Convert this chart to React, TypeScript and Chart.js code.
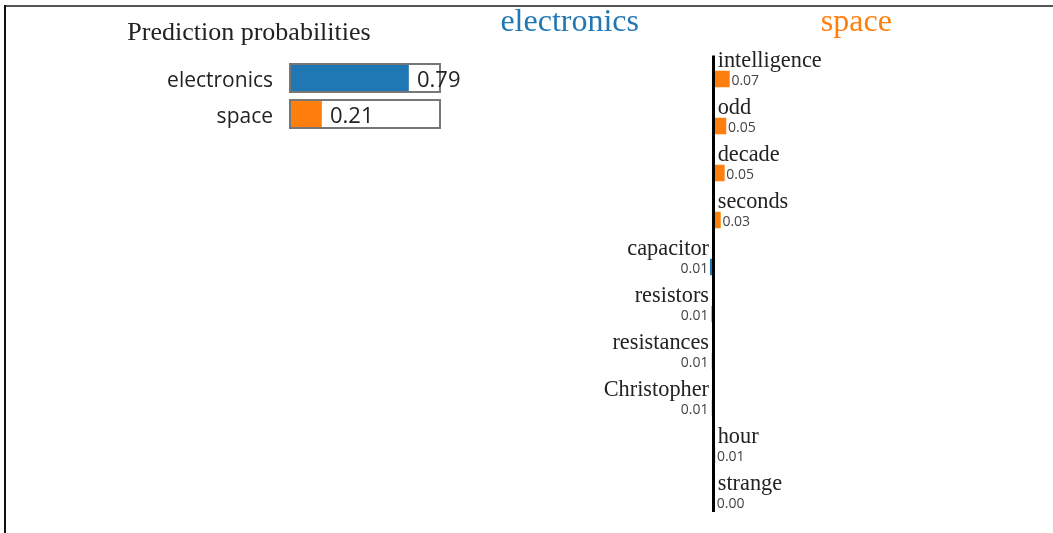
import React, { useEffect, useRef } from "react";
import { Chart, registerables } from "chart.js";

Chart.register(...registerables);

// ---- data ----
const probClasses = ["electronics", "space"];
const probValues = [0.79, 0.21];
const classColors = ["#1f77b4", "#ff7f0e"];

const featureNames = [
  "intelligence",
  "odd",
  "decade",
  "seconds",
  "capacitor",
  "resistors",
  "resistances",
  "Christopher",
  "hour",
  "strange",
];
const featureWeights = [0.069, 0.054, 0.047, 0.03, -0.014, -0.007, -0.006, -0.006, 0.006, 0.002];

const SERIF = "'Liberation Serif', 'Times New Roman', serif";
const SANS = "'Open Sans', 'Noto Sans', sans-serif";
const TEXT = "#222";

function ProbChart() {
  const ref = useRef<HTMLCanvasElement | null>(null);
  useEffect(() => {
    const canvas = ref.current!;
    const decor = {
      id: "probDecor",
      afterDatasetsDraw(chart: any) {
        const { ctx } = chart;
        const xs = chart.scales.x;
        const x0 = xs.getPixelForValue(0);
        const x1 = xs.getPixelForValue(1);
        const meta = chart.getDatasetMeta(0);
        ctx.save();
        meta.data.forEach((bar: any, i: number) => {
          const p = bar.getProps(["x", "y", "height"], true);
          const top = p.y - p.height / 2;
          ctx.strokeStyle = "#777";
          ctx.lineWidth = 2;
          ctx.strokeRect(x0, top, x1 - x0, p.height);
          ctx.fillStyle = TEXT;
          ctx.textBaseline = "alphabetic";
          ctx.font = `21px ${SANS}`;
          ctx.textAlign = "right";
          ctx.fillText(probClasses[i], x0 - 17, p.y + 9);
          ctx.font = `22px ${SANS}`;
          ctx.textAlign = "left";
          ctx.fillText(probValues[i].toFixed(2), p.x + 8.5, p.y + 9);
        });
        ctx.font = `26px ${SERIF}`;
        ctx.textAlign = "center";
        ctx.fillStyle = TEXT;
        ctx.fillText("Prediction probabilities", 249, 39.5);
        ctx.restore();
      },
    };
    const chart = new Chart(canvas, {
      type: "bar",
      data: {
        labels: probClasses,
        datasets: [
          {
            data: probValues,
            backgroundColor: classColors,
            borderWidth: 0,
            barThickness: 28,
          },
        ],
      },
      options: {
        indexAxis: "y",
        responsive: false,
        animation: false,
        devicePixelRatio: 1,
        layout: { padding: { left: 290, right: 40, top: 60, bottom: 8 } },
        scales: {
          x: { display: false, min: 0, max: 1 },
          y: { display: false },
        },
        plugins: { legend: { display: false }, tooltip: { enabled: false } },
      },
      plugins: [decor],
    } as any);
    return () => chart.destroy();
  }, []);
  return (
    <canvas
      ref={ref}
      width={480}
      height={140}
      style={{ position: "absolute", left: 0, top: 0, width: 480, height: 140 }}
    />
  );
}

function FeatureChart() {
  const ref = useRef<HTMLCanvasElement | null>(null);
  useEffect(() => {
    const canvas = ref.current!;
    const decor = {
      id: "featDecor",
      afterDatasetsDraw(chart: any) {
        const { ctx } = chart;
        const xs = chart.scales.x;
        const x0 = xs.getPixelForValue(0);
        const meta = chart.getDatasetMeta(0);
        ctx.save();
        let lastBottom = 0;
        meta.data.forEach((bar: any, i: number) => {
          const p = bar.getProps(["x", "y", "height"], true);
          const top = p.y - p.height / 2;
          const bottom = p.y + p.height / 2;
          lastBottom = bottom;
          const w = featureWeights[i];
          const label = Math.abs(w).toFixed(2);
          ctx.fillStyle = TEXT;
          ctx.textBaseline = "alphabetic";
          if (w >= 0) {
            ctx.textAlign = "left";
            ctx.font = `22.3px ${SERIF}`;
            ctx.fillText(featureNames[i], x0 + 4.2, top - 4.5);
            ctx.font = `14px ${SANS}`;
            ctx.fillStyle = "#444";
            ctx.fillText(label, Math.max(p.x + 2, x0 + 3.2), bottom - 2);
          } else {
            ctx.textAlign = "right";
            ctx.font = `22.3px ${SERIF}`;
            ctx.fillText(featureNames[i], x0 - 4.5, top - 4.5);
            ctx.font = `14px ${SANS}`;
            ctx.fillStyle = "#444";
            ctx.fillText(label, Math.min(p.x - 2, x0 - 5), bottom - 2);
          }
        });
        // axis line
        ctx.fillStyle = "#000";
        const top = chart.chartArea.top;
        ctx.fillRect(x0 - 1.5, top, 3, lastBottom + 2 - top);
        // class titles
        ctx.font = `32px ${SERIF}`;
        ctx.textAlign = "center";
        ctx.fillStyle = classColors[0];
        ctx.fillText(probClasses[0], x0 - 143.8, 31);
        ctx.fillStyle = classColors[1];
        ctx.fillText(probClasses[1], x0 + 142.8, 31);
        ctx.restore();
      },
    };
    const chart = new Chart(canvas, {
      type: "bar",
      data: {
        labels: featureNames,
        datasets: [
          {
            data: featureWeights,
            backgroundColor: featureWeights.map((v) => (v < 0 ? classColors[0] : classColors[1])),
            borderWidth: 0,
            barThickness: 16,
          },
        ],
      },
      options: {
        indexAxis: "y",
        responsive: false,
        animation: false,
        devicePixelRatio: 1,
        layout: { padding: { left: 0, right: 0, top: 55.5, bottom: 7.5 } },
        scales: {
          x: { display: false, min: -1, max: 1 },
          y: { display: false },
        },
        plugins: { legend: { display: false }, tooltip: { enabled: false } },
      },
      plugins: [decor],
    } as any);
    return () => chart.destroy();
  }, []);
  return (
    <canvas
      ref={ref}
      width={461}
      height={533}
      style={{ position: "absolute", left: 483, top: 0, width: 461, height: 533 }}
    />
  );
}

export default function App() {
  return (
    <div
      style={{
        position: "fixed",
        left: 0,
        top: 0,
        width: 1053,
        height: 533,
        background: "#fff",
        overflow: "hidden",
      }}
    >
      <div style={{ position: "absolute", left: 4, top: 5, width: 1049, height: 2, background: "#555" }} />
      <div style={{ position: "absolute", left: 4, top: 5, width: 2, height: 528, background: "#111" }} />
      <ProbChart />
      <FeatureChart />
    </div>
  );
}
